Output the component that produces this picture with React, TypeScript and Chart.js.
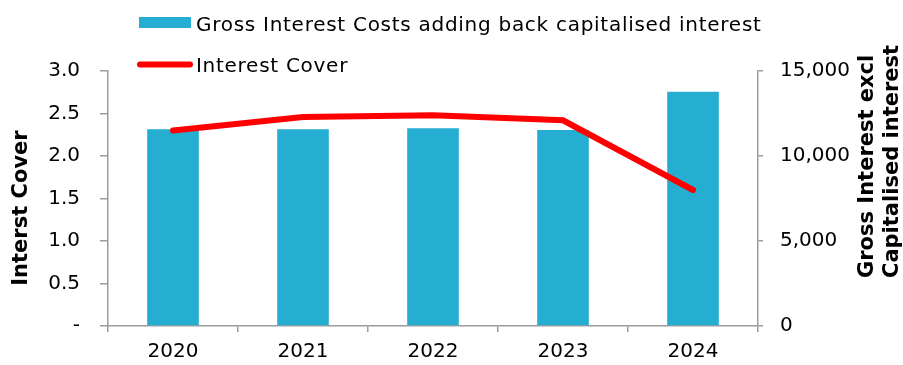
import React, { useEffect, useRef } from "react";
import { Chart, registerables } from "chart.js";

Chart.register(...registerables);

const categories = ["2020", "2021", "2022", "2023", "2024"];
const grossInterest = [11570, 11580, 11630, 11530, 13780];
const interestCover = [2.3, 2.46, 2.48, 2.42, 1.6];

const barLabel = "Gross Interest Costs adding back capitalised interest";
const lineLabel = "Interest Cover";
const leftTitle = "Interst Cover";
const rightTitle = ["Gross Interest excl", "Capitalised interest"];

const FONT = "'DejaVu Sans', Verdana, sans-serif";
const AXIS = "#9C9C9C";
const BAR = "#25AED2";
const LINE = "#FF0000";

const decorPlugin = {
  id: "decor",
  afterDraw(chart: any) {
    const ctx = chart.ctx as CanvasRenderingContext2D;
    const ds = chart.data.datasets;
    ctx.save();
    // legend
    ctx.font = `20px ${FONT}`;
    (ctx as any).letterSpacing = "0.72px";
    ctx.fillStyle = "#000";
    ctx.textAlign = "left";
    ctx.textBaseline = "alphabetic";
    const bar = ds.find((d: any) => d.type === "bar");
    const line = ds.find((d: any) => d.type === "line");
    ctx.fillStyle = bar.backgroundColor;
    ctx.fillRect(139, 17, 52, 11);
    ctx.fillStyle = "#000";
    ctx.fillText(bar.label, 196, 31);
    ctx.strokeStyle = line.borderColor;
    ctx.lineWidth = 6;
    ctx.lineCap = "round";
    ctx.beginPath();
    ctx.moveTo(140, 64.5);
    ctx.lineTo(190, 64.5);
    ctx.stroke();
    ctx.fillText(line.label, 196, 72);
    (ctx as any).letterSpacing = "0px";
    // axis titles
    ctx.font = `bold 21px ${FONT}`;
    ctx.textAlign = "center";
    ctx.save();
    ctx.translate(27, 208);
    ctx.rotate(-Math.PI / 2);
    ctx.fillText(leftTitle, 0, 0);
    ctx.restore();
    ctx.textAlign = "left";
    const xs = [873, 898];
    rightTitle.forEach((t, i) => {
      ctx.save();
      ctx.translate(xs[i], 278);
      ctx.rotate(-Math.PI / 2);
      ctx.fillText(t, 0, 0);
      ctx.restore();
    });
    ctx.restore();
  },
};

export default function App() {
  const ref = useRef<HTMLCanvasElement | null>(null);
  useEffect(() => {
    if (!ref.current) return;
    const tickFont = { family: FONT, size: 20 };
    const chart = new Chart(ref.current, {
      data: {
        labels: categories,
        datasets: [
          {
            type: "line",
            label: lineLabel,
            data: interestCover,
            yAxisID: "y",
            borderColor: LINE,
            backgroundColor: LINE,
            borderWidth: 6,
            borderCapStyle: "round",
            borderJoinStyle: "miter",
            pointRadius: 0,
            tension: 0,
            order: 0,
          } as any,
          {
            type: "bar",
            label: barLabel,
            data: grossInterest,
            yAxisID: "y1",
            backgroundColor: BAR,
            borderColor: "#6CC8E2",
            borderWidth: 0,
            barPercentage: 0.397,
            categoryPercentage: 1,
            order: 1,
          } as any,
        ],
      },
      options: {
        responsive: false,
        animation: false,
        devicePixelRatio: 1,
        layout: { padding: { top: 71, left: 0, right: 0, bottom: 0 } },
        plugins: { legend: { display: false }, tooltip: { enabled: false } },
        scales: {
          x: {
            type: "category",
            offset: true,
            grid: {
              offset: true,
              drawOnChartArea: false,
              drawTicks: true,
              tickLength: 6,
              color: AXIS,
              lineWidth: 1.5,
            },
            border: { color: AXIS, width: 1.5 },
            ticks: { color: "#000", font: tickFont, padding: 8, maxRotation: 0 },
            afterFit(scale: any) {
              scale.height = 39;
            },
          },
          y: {
            position: "left",
            min: 0,
            max: 3,
            grid: {
              drawOnChartArea: false,
              tickLength: 8,
              color: AXIS,
              lineWidth: 1.5,
            },
            border: { color: AXIS, width: 1.5 },
            ticks: {
              stepSize: 0.5,
              color: "#000",
              font: tickFont,
              padding: 20,
              callback: (v: any) => (Number(v) === 0 ? "-" : Number(v).toFixed(1)),
            },
            afterFit(scale: any) {
              scale.width = 108;
            },
          },
          y1: {
            position: "right",
            min: 0,
            max: 15000,
            grid: {
              drawOnChartArea: false,
              tickLength: 5,
              color: AXIS,
              lineWidth: 1.5,
            },
            border: { color: AXIS, width: 1.5 },
            ticks: {
              stepSize: 5000,
              color: "#000",
              font: tickFont,
              padding: 17,
              callback: (v: any) => Number(v).toLocaleString("en-US"),
            },
            afterFit(scale: any) {
              scale.width = 145;
            },
          },
        },
      },
      plugins: [decorPlugin],
    });
    return () => chart.destroy();
  }, []);
  return (
    <div style={{ position: "absolute", left: 0, top: 0, width: 903, height: 365, background: "#fff" }}>
      <canvas ref={ref} width={903} height={365} style={{ display: "block" }} />
    </div>
  );
}
